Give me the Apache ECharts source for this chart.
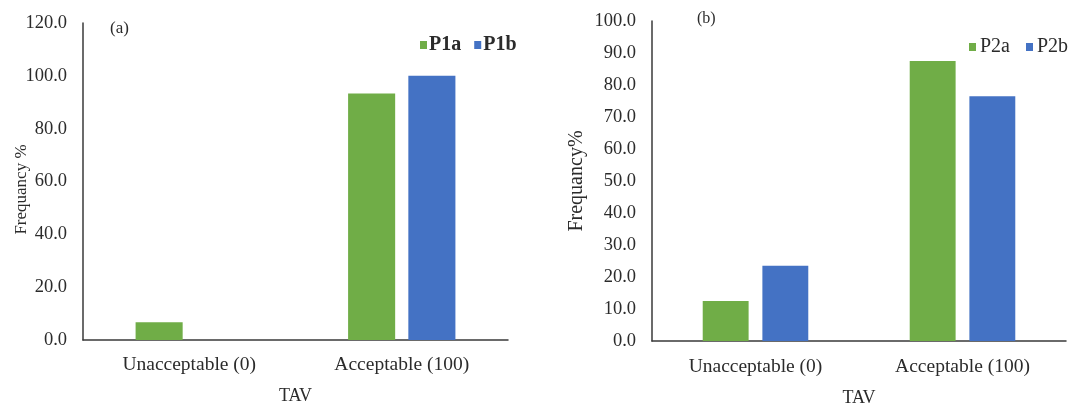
<!DOCTYPE html>
<html>
<head>
<meta charset="utf-8">
<script src="https://cdn.jsdelivr.net/npm/echarts@6/dist/echarts.min.js"></script>
<style>
  html, body { margin: 0; padding: 0; background: #fff; }
  #chart { width: 1070px; height: 405px; }
</style>
</head>
<body>
<div id="chart"></div>
<script>
// Categories along the TAV axis
const categories = ['Unacceptable (0)', 'Acceptable (100)'];

// Panel (a) frequencies (%)
const p1a = [6.7, 93.3];
const p1b = [0, 100.0];

// Panel (b) frequencies (%)
const p2a = [12.5, 87.5];
const p2b = [23.5, 76.5];

const GREEN = '#70AD47';
const BLUE = '#4472C4';
const FONT = "'Liberation Serif', 'Times New Roman', serif";
const TEXT = '#2b2b2b';
const AXIS = '#3a3a3a';

const chart = echarts.init(document.getElementById('chart'), null, { renderer: 'canvas' });

function xAxisFor(gridIndex, nameGap, margin) {
  return {
    type: 'category',
    gridIndex,
    data: categories,
    name: 'TAV',
    nameLocation: 'middle',
    nameGap,
    nameMoveOverlap: false,
    nameTextStyle: { fontFamily: FONT, fontSize: 18, color: TEXT },
    axisLine: { lineStyle: { color: AXIS, width: 1.5 } },
    axisTick: { show: false },
    axisLabel: { fontFamily: FONT, fontSize: 19.5, color: TEXT, margin }
  };
}

function yAxisFor(gridIndex, max, interval, name, nameGap, nfs, namePad) {
  return {
    type: 'value',
    gridIndex,
    min: 0,
    max,
    interval,
    name,
    nameLocation: 'middle',
    nameRotate: 90,
    nameGap,
    nameMoveOverlap: false,
    nameTextStyle: { fontFamily: FONT, fontSize: nfs, color: TEXT, padding: namePad },
    axisLine: { show: true, lineStyle: { color: AXIS, width: 1.5 } },
    axisTick: { show: false },
    splitLine: { show: false },
    axisLabel: {
      fontFamily: FONT, fontSize: 18.5, color: TEXT, margin: 16,
      formatter: v => v.toFixed(1)
    }
  };
}

chart.setOption({
  animation: false,
  backgroundColor: '#fff',
  grid: [
    { left: 83, top: 23, right: 562, bottom: 65, outerBoundsMode: 'none' },
    { left: 652, top: 21, right: 4, bottom: 64, outerBoundsMode: 'none' }
  ],
  legend: [
    {
      data: ['P1a', 'P1b'],
      left: 420, top: 35, padding: 0,
      icon: 'rect', itemWidth: 7, itemHeight: 8, itemGap: 13,
      textStyle: { fontFamily: FONT, fontSize: 20, fontWeight: 'bold', color: TEXT, padding: [0, 0, 0, -3] }
    },
    {
      data: ['P2a', 'P2b'],
      left: 969, top: 37, padding: 0,
      icon: 'rect', itemWidth: 7, itemHeight: 8, itemGap: 16,
      textStyle: { fontFamily: FONT, fontSize: 20, color: TEXT, padding: [0, 0, 0, -1] }
    }
  ],
  xAxis: [xAxisFor(0, 47, 15), xAxisFor(1, 48, 16)],
  yAxis: [
    yAxisFor(0, 120, 20, 'Frequancy %', 53, 17, [0, 16, 0, 0]),
    yAxisFor(1, 100, 10, 'Frequancy%', 65, 20, 0)
  ],
  series: [
    { type: 'bar', name: 'P1a', xAxisIndex: 0, yAxisIndex: 0, data: p1a,
      barCategoryGap: '49.5%', barGap: '28%', itemStyle: { color: GREEN } },
    { type: 'bar', name: 'P1b', xAxisIndex: 0, yAxisIndex: 0, data: p1b,
      barCategoryGap: '49.5%', barGap: '28%', itemStyle: { color: BLUE } },
    { type: 'bar', name: 'P2a', xAxisIndex: 1, yAxisIndex: 1, data: p2a,
      barCategoryGap: '49%', barGap: '30%', itemStyle: { color: GREEN } },
    { type: 'bar', name: 'P2b', xAxisIndex: 1, yAxisIndex: 1, data: p2b,
      barCategoryGap: '49%', barGap: '30%', itemStyle: { color: BLUE } }
  ],
  graphic: [
    { type: 'text', left: 110, top: 20, style: { text: '(a)', font: "17px 'Liberation Serif', serif", fill: TEXT } },
    { type: 'text', left: 697, top: 11, style: { text: '(b)', font: "16px 'Liberation Serif', serif", fill: TEXT } }
  ]
});
</script>
</body>
</html>
